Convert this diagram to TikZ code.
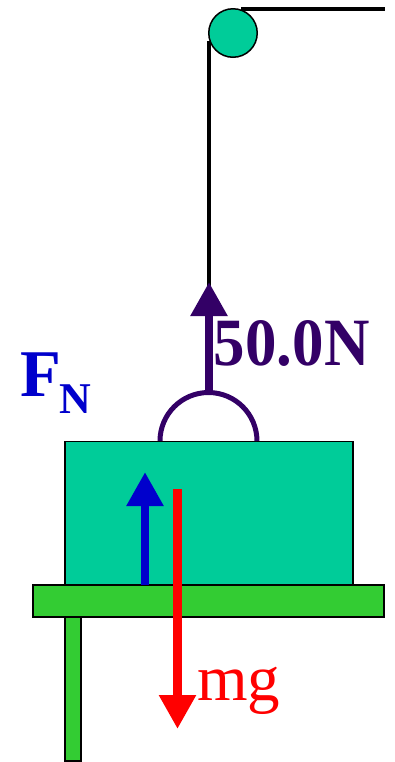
\documentclass[tikz,border=0pt]{standalone}
\usepackage{fontspec}
\setmainfont{Liberation Serif}
\usetikzlibrary{arrows.meta}
\definecolor{blockteal}{RGB}{0,204,153}
\definecolor{tablegreen}{RGB}{51,204,51}
\definecolor{tensionpurple}{RGB}{51,0,102}
\definecolor{normalblue}{RGB}{0,0,204}
\begin{document}
\begin{tikzpicture}[
  x=0.02cm,y=-0.02cm,
  solid/.style={draw=black,line width=0.03cm,inner sep=0pt,outer sep=0pt},
  force/.style={line width=0.17cm,-{Triangle[length=0.68cm,width=0.7cm]}},
  rope/.style={draw=black,line width=0.075cm},
  lbl/.style={anchor=base west,inner sep=0pt,outer sep=0pt},
]
\useasboundingbox (0,0) rectangle (395,762);

% ropes and pulley
\coordinate (ropeend) at (385,9);
\coordinate (ropestart) at (241,9);
\coordinate (ropetop) at (209,41);
\coordinate (ropebottom) at (209,290);
\draw[rope] (ropestart) -- (ropeend);
\draw[rope] (ropetop) -- (ropebottom);
\node[solid,circle,fill=blockteal,minimum size=0.97cm] (pulley) at (233,33) {};

% block, table
\node[solid,fill=blockteal,minimum width=5.76cm,minimum height=2.87cm] (block) at (209,513) {};
\node[solid,fill=tablegreen,minimum width=3.2mm,minimum height=2.88cm] (leg) at (73,689) {};
\node[solid,fill=tablegreen,minimum width=7.02cm,minimum height=0.64cm] (table) at (208.5,601) {};

% handle
\coordinate (handleleft) at (160,441);
\draw[tensionpurple,line width=0.1cm] (handleleft) arc[start angle=180,end angle=0,radius=0.97cm];

% forces
\coordinate (handletop) at (209,392);
\coordinate (tensiontip) at (209,282);
\coordinate (normalbase) at (145,585);
\coordinate (normaltip) at (145,472);
\coordinate (weightbase) at (177.5,489);
\coordinate (weighttip) at (177.5,729);
\draw[force,color=tensionpurple] (handletop) -- (tensiontip);
\draw[force,color=normalblue] (normalbase) -- (normaltip);
\draw[force,color=red] (weightbase) -- (weighttip);

% labels
\node[lbl,color=tensionpurple,font=\bfseries\fontsize{38.5}{38.5}\selectfont,xscale=0.93,transform shape] (tensionlabel) at (214,365) {50.0N};
\node[lbl,color=normalblue,font=\bfseries\fontsize{38}{38}\selectfont] (normallabel) at (20,396) {F};
\node[lbl,color=normalblue,font=\bfseries\fontsize{25}{25}\selectfont] (normalsub) at (59,413) {N};
\node[lbl,color=red,font=\fontsize{37}{37}\selectfont] (weightlabel) at (197,700) {mg};
\end{tikzpicture}
\end{document}
